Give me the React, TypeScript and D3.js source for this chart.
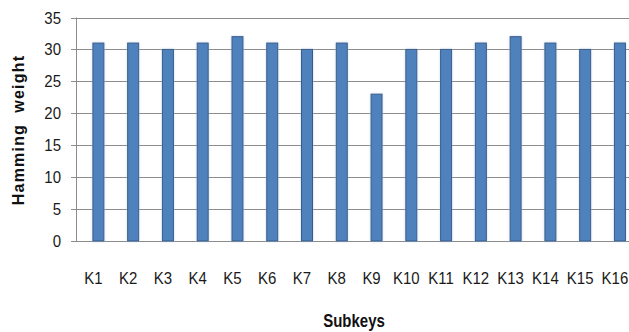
import React from "react";
import * as d3 from "d3";

// Hamming weight of each of the 16 round subkeys
const subkeys = ["K1","K2","K3","K4","K5","K6","K7","K8","K9","K10","K11","K12","K13","K14","K15","K16"];
const weights = [31, 31, 30, 31, 32, 31, 30, 31, 23, 30, 30, 31, 32, 31, 30, 31];
const yTicks = [0, 5, 10, 15, 20, 25, 30, 35];

const W = 629;
const H = 332;
const left = 76;
const top = 17.5;
const bottom = 241;
const bandW = 34.77;
const barW = 11;
const barShift = 5;

export default function App() {
  const x = d3.scaleBand<string>().domain(subkeys).range([left, left + bandW * subkeys.length]).padding(0);
  const y = d3.scaleLinear().domain([0, 35]).range([bottom, top]);
  const font = "'Liberation Sans', Arial, sans-serif";
  const grid = "#8c8c8c";

  return (
    <svg width={W} height={H} style={{ position: "absolute", left: 0, top: 0, background: "#fff" }}>
      <defs>
        <filter id="glow" x="-50%" y="-10%" width="200%" height="120%">
          <feGaussianBlur in="SourceAlpha" stdDeviation="0.8" result="b" />
          <feFlood floodColor="#a9c2e4" floodOpacity="0.7" />
          <feComposite in2="b" operator="in" result="s" />
          <feMerge>
            <feMergeNode in="s" />
            <feMergeNode in="SourceGraphic" />
          </feMerge>
        </filter>
      </defs>
      {/* horizontal gridlines with short tick stubs */}
      {yTicks.map((t) => (
        <g key={t}>
          <line x1={left - 5} x2={W} y1={Math.round(y(t)) + 0.5} y2={Math.round(y(t)) + 0.5} stroke={grid} strokeWidth={1} />
          <text
            transform={`translate(61,${y(t)}) scale(1,1.12)`}
            dy="0.36em"
            textAnchor="end"
            fontFamily={font}
            fontSize={15}
            fill="#1a1a1a"
          >
            {t}
          </text>
        </g>
      ))}
      <line x1={left + 0.5} x2={left + 0.5} y1={y(35)} y2={y(0)} stroke={grid} strokeWidth={1} />

      {/* bars */}
      {subkeys.map((k, i) => {
        const cx = (x(k) as number) + x.bandwidth() / 2 + barShift;
        return (
          <rect
            key={k}
            x={cx - barW / 2}
            y={y(weights[i])}
            width={barW}
            height={y(0) - y(weights[i])}
            fill="#4f81bd"
            stroke="#385d8a"
            strokeWidth={1}
            filter="url(#glow)"
          />
        );
      })}

      {/* category labels */}
      {subkeys.map((k) => (
        <text
          key={k}
          transform={`translate(${(x(k) as number) + x.bandwidth() / 2},284) scale(1,1.12)`}
          textAnchor="middle"
          fontFamily={font}
          fontSize={15}
          fill="#1a1a1a"
        >
          {k}
        </text>
      ))}

      <text
        transform="translate(354,327) scale(1,1.2)"
        textAnchor="middle"
        fontFamily={font}
        fontSize={15}
        fontWeight="bold"
        fill="#111"
      >
        Subkeys
      </text>
      <text
        transform={`translate(24,130) rotate(-90)`}
        textAnchor="middle"
        fontFamily={font}
        fontSize={16}
        fontWeight="bold"
        letterSpacing={1.2}
        fill="#111"
        style={{ whiteSpace: "pre" }}
      >
        Hamming  weight
      </text>
    </svg>
  );
}
